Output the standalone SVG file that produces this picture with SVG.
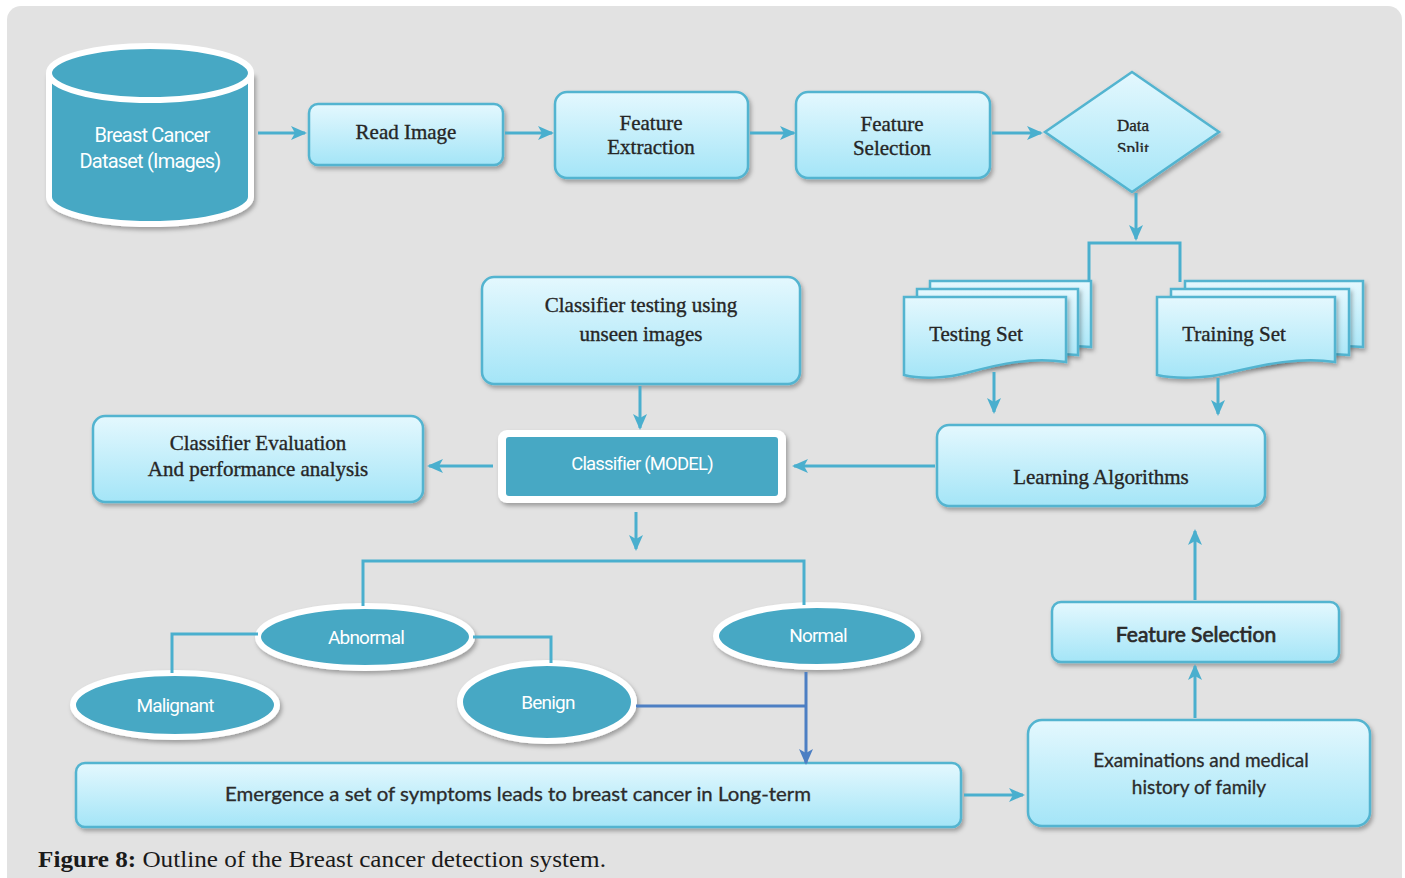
<svg xmlns="http://www.w3.org/2000/svg" width="1405" height="878" viewBox="0 0 1405 878">
<defs>
<linearGradient id="gBox" x1="0" y1="0" x2="0" y2="1">
<stop offset="0" stop-color="#e4f8fe"/>
<stop offset="1" stop-color="#a4e5f7"/>
</linearGradient>
<filter id="sh" x="-10%" y="-20%" width="125%" height="150%">
<feDropShadow dx="2" dy="3" stdDeviation="2" flood-color="#000" flood-opacity="0.3"/>
</filter>
<marker id="ar" markerUnits="userSpaceOnUse" markerWidth="16" markerHeight="16" viewBox="0 0 16 16" refX="14" refY="8" orient="auto">
<path d="M0,1 L16,8 L0,15 L4,8 Z" fill="#4aafce"/>
</marker>
<marker id="arB" markerUnits="userSpaceOnUse" markerWidth="16" markerHeight="16" viewBox="0 0 16 16" refX="14" refY="8" orient="auto">
<path d="M0,1 L16,8 L0,15 L4,8 Z" fill="#4d7fc3"/>
</marker>
<clipPath id="splitClip"><rect x="1090" y="100" width="90" height="52"/></clipPath>
</defs>
<style>
.box{fill:url(#gBox);stroke:#52b4d0;stroke-width:2.5;filter:url(#sh)}
.teal{fill:#47a8c4}
.ring{fill:#47a8c4;stroke:#ffffff;stroke-width:6;filter:url(#sh)}
.ser{font-family:"Liberation Serif",serif;fill:#262626;stroke:#262626;stroke-width:0.35;text-anchor:middle}
.sans{font-family:"Lato","Open Sans",sans-serif;fill:#2b2b2b;stroke:#2b2b2b;stroke-width:0.3;text-anchor:middle}
.wt{font-family:"Roboto","DejaVu Sans",sans-serif;fill:#ffffff;text-anchor:middle;letter-spacing:-0.8px}
.con{fill:none;stroke:#4aafce;stroke-width:3}
.conB{fill:none;stroke:#4d7fc3;stroke-width:3}
</style>
<rect x="0" y="0" width="1405" height="878" fill="#ffffff"/>
<rect x="7" y="6" width="1395" height="890" rx="14" fill="#e2e2e2"/>

<g id="dataset">
<path d="M49,73 V197 A101,27 0 0 0 251,197 V73" class="ring"/>
<ellipse cx="150" cy="73" rx="101" ry="27" fill="#47a8c4" stroke="#ffffff" stroke-width="6"/>
<text class="wt" x="152" y="142" font-size="20">Breast Cancer</text>
<text class="wt" x="150" y="168" font-size="20">Dataset (Images)</text>
</g>

<g id="read-image">
<rect class="box" x="309" y="104" width="194" height="61" rx="9"/>
<text class="ser" x="406" y="139" font-size="21">Read Image</text>
</g>

<g id="feature-extraction">
<rect class="box" x="555" y="92" width="193" height="86" rx="12"/>
<text class="ser" x="651" y="130" font-size="21">Feature</text>
<text class="ser" x="651" y="154" font-size="21">Extraction</text>
</g>

<g id="feature-selection-top">
<rect class="box" x="796" y="92" width="194" height="86" rx="12"/>
<text class="ser" x="892" y="131" font-size="21">Feature</text>
<text class="ser" x="892" y="155" font-size="21">Selection</text>
</g>

<g id="data-split">
<path class="box" d="M1132,72 L1219,132 L1132,192 L1045,132 Z"/>
<text class="ser" x="1133" y="131" font-size="17">Data</text>
<text class="ser" x="1133" y="154" font-size="17" clip-path="url(#splitClip)">Split</text>
</g>

<g id="testing-set">
<path class="box" d="M930,281 H1091 V347 C1060,344 1040,350 1020,354 C1000,358 945,358 930,354 Z"/>
<path class="box" d="M917,289 H1078 V355 C1047,352 1027,358 1007,362 C987,366 932,366 917,362 Z"/>
<path class="box" d="M904,297 H1066 V362 C1030,357 1000,364 970,372 C945,379 920,379 904,375 Z"/>
<text class="ser" x="976" y="341" font-size="21">Testing Set</text>
</g>

<g id="training-set">
<path class="box" d="M1185,281 H1363 V347 C1330,344 1310,350 1290,354 C1265,358 1205,358 1185,354 Z"/>
<path class="box" d="M1171,289 H1349 V355 C1316,352 1296,358 1276,362 C1251,366 1191,366 1171,362 Z"/>
<path class="box" d="M1157,297 H1335 V362 C1300,357 1265,364 1232,372 C1205,379 1175,379 1157,375 Z"/>
<text class="ser" x="1234" y="341" font-size="21">Training Set</text>
</g>

<g id="classifier-testing">
<rect class="box" x="482" y="277" width="318" height="107" rx="12"/>
<text class="ser" x="641" y="312" font-size="21">Classifier testing using</text>
<text class="ser" x="641" y="341" font-size="21">unseen images</text>
</g>

<g id="learning-algorithms">
<rect class="box" x="937" y="425" width="328" height="81" rx="12"/>
<text class="ser" x="1101" y="484" font-size="21">Learning Algorithms</text>
</g>

<g id="classifier-model">
<rect x="498" y="430" width="288" height="73" rx="9" fill="#ffffff" filter="url(#sh)"/>
<rect class="teal" x="506" y="437" width="272" height="59" rx="3"/>
<text class="wt" x="642" y="470" font-size="18.5">Classifier (MODEL)</text>
</g>

<g id="classifier-evaluation">
<rect class="box" x="93" y="416" width="330" height="86" rx="12"/>
<text class="ser" x="258" y="450" font-size="21">Classifier Evaluation</text>
<text class="ser" x="258" y="476" font-size="21">And performance analysis</text>
</g>

<g id="abnormal">
<ellipse class="ring" cx="365" cy="637" rx="107" ry="31"/>
<text class="wt" x="366" y="644" font-size="19">Abnormal</text>
</g>
<g id="normal">
<ellipse class="ring" cx="817" cy="636" rx="101" ry="31"/>
<text class="wt" x="818" y="642" font-size="19">Normal</text>
</g>
<g id="malignant">
<ellipse class="ring" cx="175" cy="705" rx="102" ry="32"/>
<text class="wt" x="175" y="712" font-size="19">Malignant</text>
</g>
<g id="benign">
<ellipse class="ring" cx="547" cy="702" rx="87" ry="39"/>
<text class="wt" x="548" y="709" font-size="19">Benign</text>
</g>

<g id="emergence">
<rect class="box" x="76" y="763" width="885" height="64" rx="9"/>
<text class="sans" x="518" y="801" font-size="19" textLength="586" lengthAdjust="spacingAndGlyphs">Emergence a set of symptoms leads to breast cancer in Long-term</text>
</g>

<g id="examinations">
<rect class="box" x="1028" y="720" width="342" height="106" rx="14"/>
<text class="sans" x="1201" y="767" font-size="19">Examinations and medical</text>
<text class="sans" x="1199" y="794" font-size="19">history of family</text>
</g>

<g id="feature-selection-right">
<rect class="box" x="1052" y="602" width="287" height="60" rx="9"/>
<text class="sans" x="1196" y="642" font-size="21" style="stroke-width:0.7">Feature Selection</text>
</g>

<g id="connectors">
<line class="con" x1="258" y1="133" x2="305" y2="133" marker-end="url(#ar)"/>
<line class="con" x1="505" y1="133" x2="552" y2="133" marker-end="url(#ar)"/>
<line class="con" x1="750" y1="133" x2="794" y2="133" marker-end="url(#ar)"/>
<line class="con" x1="992" y1="133" x2="1041" y2="133" marker-end="url(#ar)"/>
<line class="con" x1="1136" y1="193" x2="1136" y2="239" marker-end="url(#ar)"/>
<path class="con" d="M1089,282 V243 H1180 V282"/>
<line class="con" x1="994" y1="372" x2="994" y2="412" marker-end="url(#ar)"/>
<line class="con" x1="1218" y1="378" x2="1218" y2="414" marker-end="url(#ar)"/>
<line class="con" x1="935" y1="466" x2="794" y2="466" marker-end="url(#ar)"/>
<line class="con" x1="640" y1="386" x2="640" y2="428" marker-end="url(#ar)"/>
<line class="con" x1="493" y1="466" x2="429" y2="466" marker-end="url(#ar)"/>
<line class="con" x1="636" y1="512" x2="636" y2="549" marker-end="url(#ar)"/>
<path class="con" d="M363,606 V561 H804 V605"/>
<path class="con" d="M258,634 H172 V673"/>
<path class="con" d="M473,637 H551 V663"/>
<path class="conB" d="M636,706 H806"/>
<line class="conB" x1="806" y1="672" x2="806" y2="763" marker-end="url(#arB)"/>
<line class="con" x1="964" y1="795" x2="1023" y2="795" marker-end="url(#ar)"/>
<line class="con" x1="1195" y1="718" x2="1195" y2="666" marker-end="url(#ar)"/>
<line class="con" x1="1195" y1="600" x2="1195" y2="531" marker-end="url(#ar)"/>
</g>

<text x="38" y="867" font-family="Liberation Serif, serif" font-size="23" fill="#1a1a1a" textLength="568" lengthAdjust="spacingAndGlyphs"><tspan font-weight="bold">Figure 8:</tspan> Outline of the Breast cancer detection system.</text>
</svg>
